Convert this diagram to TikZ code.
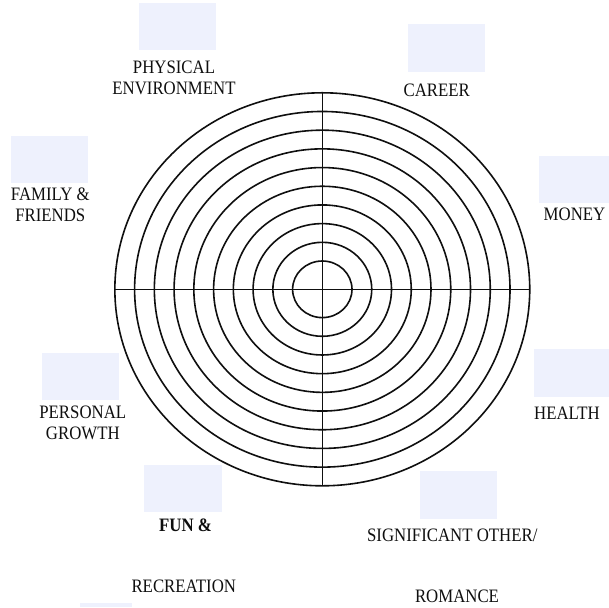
\documentclass[tikz,border=0pt]{standalone}
\usepackage{fontspec}
\usepackage{graphicx}
\setmainfont{Liberation Serif}
\definecolor{boxfill}{RGB}{238,241,253}
\definecolor{ink}{RGB}{15,15,15}
% slightly taller capitals for the area names
\newcommand{\tallcaps}[1]{\scalebox{1}[1.13]{#1}}
\tikzset{
  ring/.style={draw=ink, line width=1.6pt},
  axis/.style={draw=ink, line width=1.6pt},
  scorebox/.style={fill=boxfill, draw=none},
  lbl/.style={text=ink, align=center, inner sep=0pt,
    font=\fontsize{16.8}{21}\selectfont},
}
\begin{document}
\begin{tikzpicture}[x=1pt, y=-1pt]
  \useasboundingbox (0,0) rectangle (609,607);
  \fill[white] (0,0) rectangle (609,607);

  % blank score boxes
  \fill[scorebox] (139,3) rectangle (216,50);
  \fill[scorebox] (11,136) rectangle (88,183);
  \fill[scorebox] (408,24) rectangle (485,72);
  \fill[scorebox] (539,156) rectangle (609,203);
  \fill[scorebox] (42,353) rectangle (119,400);
  \fill[scorebox] (144,465) rectangle (222,512);
  \fill[scorebox] (80,603) rectangle (132,607);
  \fill[scorebox] (534,349) rectangle (609,397);
  \fill[scorebox] (420,471) rectangle (497,519);

  % concentric rings of the wheel
  \coordinate (c) at (322.3,289.3);
  \foreach \k in {0,...,9} {
    \pgfmathsetmacro{\rx}{29.7+19.75*\k}
    \pgfmathsetmacro{\ry}{28.3+18.69*\k}
    \draw[ring] (c) ellipse [x radius=\rx pt, y radius=\ry pt];
  }

  % dividing axes
  \coordinate (w) at (115,289.3);
  \coordinate (e) at (529.6,289.3);
  \coordinate (n) at (322.3,93);
  \coordinate (s) at (322.3,486);
  \draw[axis] (w) -- (e);
  \draw[axis] (n) -- (s);

  % area labels
  \node[lbl] (physical) at (174,78) {\tallcaps{PHYSICAL}\\\tallcaps{ENVIRONMENT}};
  \node[lbl] (family) at (50.3,204.5) {\tallcaps{FAMILY \&}\\\tallcaps{FRIENDS}};
  \node[lbl] (career) at (436.7,90.7) {\tallcaps{CAREER}};
  \node[lbl] (money) at (574.5,214.7) {\tallcaps{MONEY}};
  \node[lbl] (personal) at (82.8,422.4) {\tallcaps{PERSONAL}\\\tallcaps{GROWTH}};
  \node[lbl, font=\fontsize{16.8}{21}\selectfont\bfseries] (fun) at (185.5,525.5) {\tallcaps{FUN \&}};
  \node[lbl] (recreation) at (183.8,586.2) {\tallcaps{RECREATION}};
  \node[lbl] (health) at (567,413) {\tallcaps{HEALTH}};
  \node[lbl] (significant) at (452.3,535.2) {\tallcaps{SIGNIFICANT OTHER/}};
  \node[lbl] (romance) at (457,596.7) {\tallcaps{ROMANCE}};
\end{tikzpicture}
\end{document}
